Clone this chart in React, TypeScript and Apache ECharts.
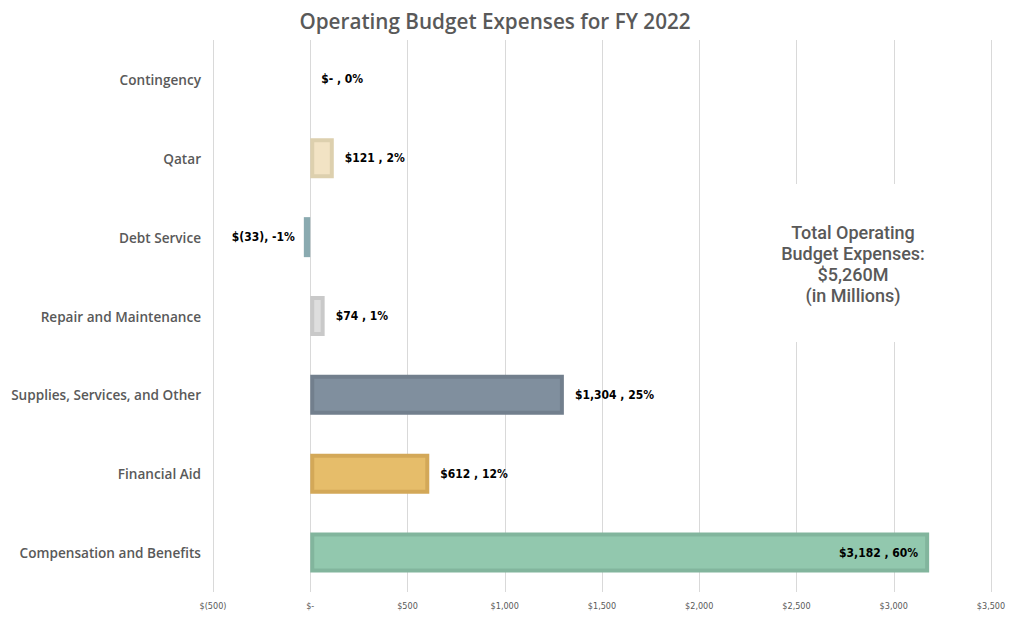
import React, { useEffect, useRef } from "react";
import * as echarts from "echarts";

const categories = [
  "Contingency",
  "Qatar",
  "Debt Service",
  "Repair and Maintenance",
  "Supplies, Services, and Other",
  "Financial Aid",
  "Compensation and Benefits",
];
const values = [0, 121, -33, 74, 1304, 612, 3182];
const percents = [0, 2, -1, 1, 25, 12, 60];
const fillColors = ["#FFFFFF", "#F2E3C4", "#8AAAB0", "#DEDEDE", "#808F9E", "#E6BD6A", "#92C8AE"];
const borderColors = ["#FFFFFF", "#DDD0AE", "#8AAAB0", "#C9C9C9", "#727F8D", "#D3A858", "#82B59D"];
const labelPositions = ["right", "right", "left", "right", "right", "right", "insideRight"];
const xTicks = { min: -500, max: 3500, interval: 500 };
const titleText = "Operating Budget Expenses for FY 2022";
const totalLines = ["Total Operating", "Budget Expenses:", "$5,260M", "(in Millions)"];

const SANS = "'Open Sans', 'Noto Sans', sans-serif";
const BOX = "Roboto, 'Open Sans', sans-serif";
const NARROW = "'DejaVu Sans Condensed', 'Liberation Sans Narrow', 'Noto Sans', sans-serif";

const withCommas = (n: number) => String(n).replace(/\B(?=(\d{3})+(?!\d))/g, ",");

const fmtTick = (v: number) => {
  if (v === 0) return "$-";
  if (v < 0) return `$(${withCommas(Math.abs(v))})`;
  return `$${withCommas(v)}`;
};

const fmtLabel = (v: number, p: number) => {
  if (v === 0) return `$- , ${p}%`;
  if (v < 0) return `$(${withCommas(Math.abs(v))}), ${p}%`;
  return `$${withCommas(v)} , ${p}%`;
};

export default function App() {
  const ref = useRef<HTMLDivElement>(null);
  useEffect(() => {
    if (!ref.current) return;
    const chart = echarts.init(ref.current, undefined, { renderer: "svg" });
    chart.setOption({
      animation: false,
      backgroundColor: "#FFFFFF",
      title: {
        text: titleText,
        left: 490,
        top: 5,
        textAlign: "center",
        textStyle: {
          fontFamily: SANS,
          fontSize: 20.7,
          fontWeight: 600,
          color: "#595959",
        },
      },
      grid: { left: 213, right: 33, top: 40, bottom: 35, containLabel: false },
      xAxis: {
        type: "value",
        min: xTicks.min,
        max: xTicks.max,
        interval: xTicks.interval,
        axisLine: { show: false },
        axisTick: { show: false },
        splitLine: { show: true, lineStyle: { color: "#D9D9D9", width: 1 } },
        axisLabel: {
          formatter: (v: number) => fmtTick(v),
          color: "#595959",
          fontFamily: NARROW,
          fontSize: 9,
          margin: 9,
        },
      },
      yAxis: {
        type: "category",
        inverse: true,
        data: categories,
        axisLine: { show: false },
        axisTick: { show: false },
        splitLine: { show: false },
        axisLabel: {
          color: "#595959",
          fontFamily: SANS,
          fontWeight: 600,
          fontSize: 13.6,
          margin: 12,
        },
      },
      series: [
        {
          type: "bar",
          barWidth: 40,
          data: values.map((v, i) => ({
            value: v,
            itemStyle: {
              color: fillColors[i],
              borderColor: borderColors[i],
              borderWidth: v === 0 ? 0 : i === 2 ? 0 : 4,
            },
            label: {
              show: true,
              position: labelPositions[i],
              distance: i === 2 ? 9 : 11,
              formatter: () => fmtLabel(v, percents[i]),
              color: "#000000",
              fontFamily: NARROW,
              fontWeight: "bold",
              fontSize: 12,
            },
          })),
        },
      ],
      graphic: [
        {
          type: "rect",
          shape: { x: 755, y: 184, width: 195, height: 158 },
          style: { fill: "#FFFFFF" },
          z: 10,
        },
        ...totalLines.map((t, i) => ({
          type: "text",
          x: 853,
          y: 232 + i * 21.3,
          z: 11,
          style: {
            text: t,
            textAlign: "center",
            textVerticalAlign: "middle",
            fontFamily: BOX,
            fontWeight: 500,
            fontSize: 18,
            fill: "#595959",
          },
        })),
      ],
    });
    return () => chart.dispose();
  }, []);
  return <div ref={ref} style={{ width: 1024, height: 627, position: "absolute", left: 0, top: 0 }} />;
}
